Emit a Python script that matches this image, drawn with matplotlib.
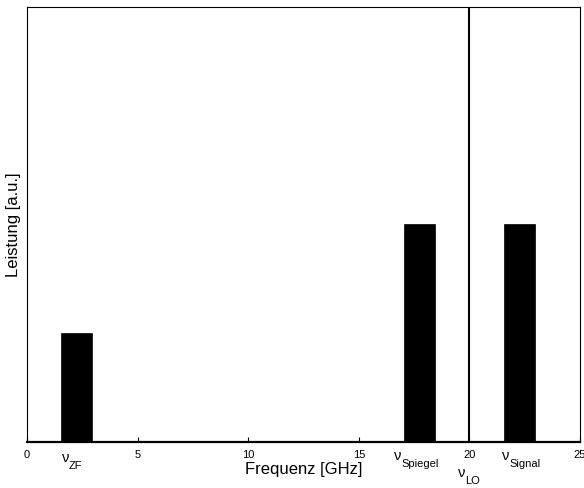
import matplotlib
matplotlib.use("Agg")
import matplotlib.pyplot as plt
from matplotlib.transforms import offset_copy

# Spectrum of a heterodyne mixer: IF, image and signal lines, LO marker
freqs = [2.25, 17.75, 22.25]          # GHz
power = [0.25, 0.5, 0.5]              # a.u.
bar_width = 1.4
f_lo = 20.0

xticks = [0, 5, 10, 15, 20, 25]

# frequency annotations: (subscript, x position of the nu, drop below axis in px)
line_labels = [
    ("ZF", 1.58, 20),
    ("Spiegel", 16.6, 18),
    ("LO", 19.5, 35),
    ("Signal", 21.48, 18),
]

plt.rcParams["font.family"] = ["Liberation Sans", "DejaVu Sans"]

fig = plt.figure(figsize=(5.84, 4.88), dpi=100)
ax = fig.add_axes([27 / 584, 1 - 442 / 488, 553 / 584, 435 / 488])

ax.bar(freqs, power, width=bar_width, color="black", edgecolor="black", linewidth=0.5)
ax.axvline(f_lo, color="black", linewidth=1.5)

ax.set_xlim(0, 25)
ax.set_ylim(0, 1)
ax.set_xticks(xticks)
ax.set_xticklabels([str(t) for t in xticks], fontsize=8)
ax.set_yticks([])
ax.tick_params(axis="x", direction="in", length=3.5, width=0.8, pad=6)

for side in ["left", "top", "right"]:
    ax.spines[side].set_linewidth(0.8)
ax.spines["bottom"].set_linewidth(1.6)

ax.set_xlabel("Frequenz [GHz]", fontsize=12, labelpad=1)
ax.set_ylabel("Leistung [a.u.]", fontsize=12, labelpad=4)

base = ax.get_xaxis_transform()
for sub, x, drop in line_labels:
    t_nu = offset_copy(base, fig=fig, x=0, y=-drop, units="dots")
    ax.text(x, 0, "\u03bd", transform=t_nu, ha="left", va="baseline", fontsize=10.5)
    t_sub = offset_copy(base, fig=fig, x=7, y=-drop - 7, units="dots")
    ax.text(x, 0, sub, transform=t_sub, ha="left", va="baseline", fontsize=8)

fig.savefig("out.png", dpi=100)
